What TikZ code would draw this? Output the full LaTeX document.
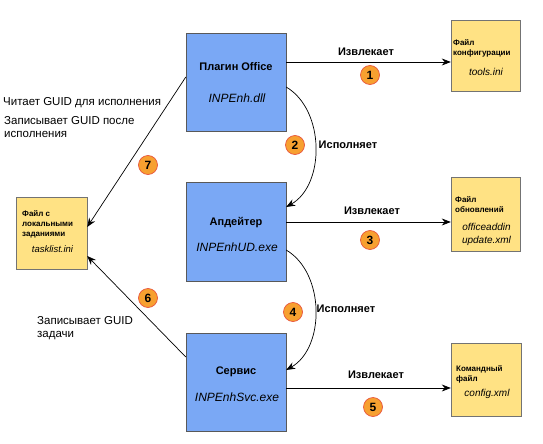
\documentclass[tikz,border=0pt]{standalone}
\usepackage{fontspec}
\setmainfont{Liberation Sans}
\usetikzlibrary{arrows.meta, positioning}

\definecolor{progblue}{RGB}{122,168,245}
\definecolor{fileyellow}{RGB}{255,226,132}
\definecolor{numorange}{RGB}{247,160,48}
\definecolor{numred}{RGB}{232,84,60}

\begin{document}
\begin{tikzpicture}[
  x=1pt, y=-1pt,
  prog/.style={rectangle, draw=black!65, fill=progblue, minimum width=100pt, minimum height=98pt, inner sep=0pt},
  file/.style={rectangle, draw=black!55, fill=fileyellow, minimum width=69pt, minimum height=72pt, inner sep=0pt},
  progname/.style={font=\fontsize{11}{13}\selectfont\bfseries, inner sep=0pt},
  exename/.style={font=\fontsize{12}{14}\selectfont\itshape, inner sep=0pt},
  filetitle/.style={font=\fontsize{8}{10}\selectfont\bfseries, align=left, anchor=west, inner sep=0pt},
  filename/.style={font=\fontsize{10}{12.5}\selectfont\itshape, align=center, inner sep=0pt},
  arrowlabel/.style={font=\fontsize{11}{13}\selectfont\bfseries},
  arrow/.style={-{Stealth[length=9pt, width=7pt]}, line width=0.7pt},
  num/.style={circle, draw=numred, fill=numorange, line width=0.7pt, minimum size=19pt, inner sep=0pt, font=\fontsize{12}{12}\selectfont\bfseries},
  every node/.style={font=\fontsize{11.5}{13}\selectfont}
]
\useasboundingbox (0,0) rectangle (543,444);

% Program boxes
\node[prog] (plugin) at (236,82) {};
\node[prog, minimum height=99pt] (updater) at (236,231.5) {};
\node[prog] (service) at (236,382) {};

\node[progname] (plugintitle) at (236,67) {Плагин Office};
\node[exename] (pluginexe) at (237,98) {INPEnh.dll};
\node[progname] (updatertitle) at (236,223) {Апдейтер};
\node[exename] (updaterexe) at (237,247) {INPEnhUD.exe};
\node[progname] (servicetitle) at (236,372) {Сервис};
\node[exename] (serviceexe) at (237,397) {INPEnhSvc.exe};

% File boxes
\node[file, minimum height=71pt] (config) at (485.5,55.5) {};
\node[file, minimum height=74pt] (update) at (485.5,214) {};
\node[file, minimum width=70pt, minimum height=73pt] (command) at (486,379.5) {};
\node[file, minimum width=71pt] (tasks) at (51.5,233) {};

\node[filetitle] (configtitle) at (453,48) {Файл\\конфигурации};
\node[filename] (configfile) at (486,72) {tools.ini};
\node[filetitle] (updatetitle) at (455,205) {Файл\\обновлений};
\node[filename] (updatefile) at (486.5,234.5) {officeaddin\\update.xml};
\node[filetitle] (commandtitle) at (456,374) {Командный\\файл};
\node[filename] (commandfile) at (487,394) {config.xml};
\node[filetitle] (taskstitle) at (22,224) {Файл с\\локальными\\заданиями};
\node[filename, font=\fontsize{9.5}{12}\selectfont\itshape] (tasksfile) at (52.5,249) {tasklist.ini};

% Fetch arrows
\draw[arrow] ([yshift=20pt]plugin.east) -- ([yshift=-6.5pt]config.west);
\draw[arrow] ([yshift=9.5pt]updater.east) -- ([yshift=-8pt]update.west);
\draw[arrow] ([yshift=-6pt]service.east) -- ([yshift=-8.5pt]command.west);

% Run arrows
\draw[arrow] ([yshift=-5pt]plugin.east) .. controls +(39,23) and +(39,-22) .. ([yshift=24.5pt]updater.east);
\draw[arrow] ([yshift=-18.5pt]updater.east) .. controls +(39,23) and +(39,-22) .. ([yshift=12pt]service.east);

% Task list arrows
\draw[arrow] ([yshift=5pt]plugin.west) -- ([yshift=6pt]tasks.east);
\draw[arrow] ([yshift=25pt]service.west) -- ([yshift=-23pt]tasks.east);

% Arrow labels
\node[arrowlabel] (fetch1) at (366,52) {Извлекает};
\node[arrowlabel] (fetch3) at (372,211) {Извлекает};
\node[arrowlabel] (fetch5) at (376,375) {Извлекает};
\node[arrowlabel] (run2) at (348,145) {Исполняет};
\node[arrowlabel] (run4) at (346,309) {Исполняет};
\node[anchor=west, inner sep=0pt] (readguid) at (3,103) {Читает GUID для исполнения};
\node[anchor=west, align=left, inner sep=0pt] (writeguid) at (4,127) {Записывает GUID после\\исполнения};
\node[anchor=west, align=left, inner sep=0pt] (taskguid) at (37,328.5) {Записывает GUID\\задачи};

% Step numbers
\node[num] (n1) at (370,75) {1};
\node[num] (n2) at (295,145) {2};
\node[num] (n3) at (370,240) {3};
\node[num] (n4) at (293,312) {4};
\node[num] (n5) at (373,407) {5};
\node[num] (n6) at (148,298) {6};
\node[num] (n7) at (148,165) {7};

\end{tikzpicture}
\end{document}
